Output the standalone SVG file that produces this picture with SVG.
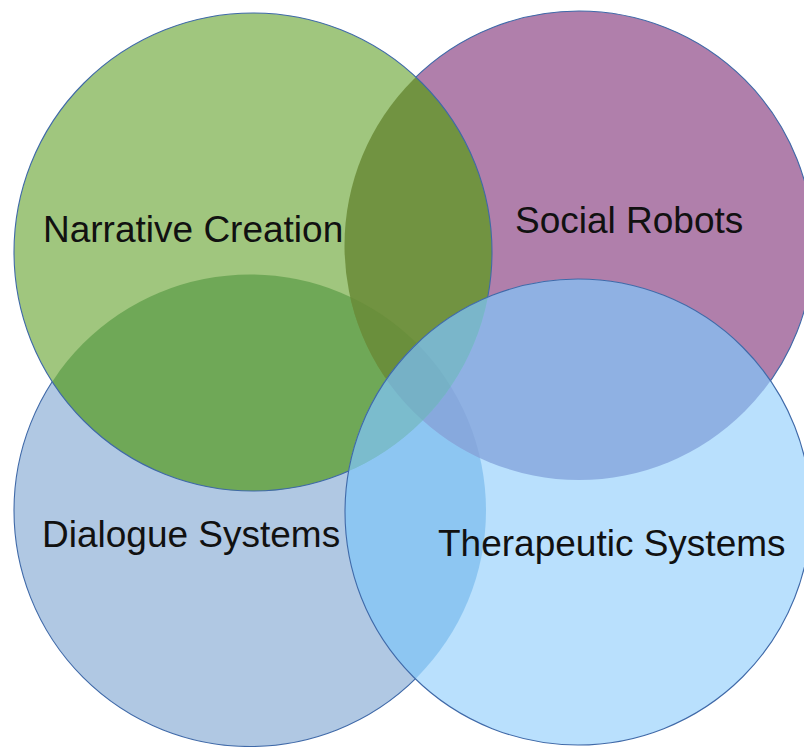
<svg xmlns="http://www.w3.org/2000/svg" width="804" height="747" viewBox="0 0 804 747">
<style>
.lbl{font-family:"Liberation Sans",Arial,sans-serif;font-size:37px;fill:#111111}
.edge{fill:none;stroke:#3f69a8;stroke-width:1.1}
</style>
<defs>
<circle id="cirG" cx="253" cy="252" r="239"/>
<circle id="cirP" cx="579" cy="245.5" r="234.5"/>
<circle id="cirD" cx="250" cy="510.5" r="236"/>
<circle id="cirT" cx="578" cy="512" r="233"/>
<clipPath id="clipG"><use href="#cirG"/></clipPath>
<clipPath id="clipP"><use href="#cirP"/></clipPath>
<clipPath id="clipD"><use href="#cirD"/></clipPath>
<clipPath id="clipT"><use href="#cirT"/></clipPath>
</defs>
<rect width="804" height="747" fill="#ffffff"/>

<g id="node-dialogue">
<use href="#cirD" fill="#b0c8e3"/>
<use href="#cirD" class="edge"/>
<text class="lbl" x="42" y="547">Dialogue Systems</text>
</g>

<g id="node-social">
<use href="#cirP" fill="#b07fab"/>
<use href="#cirP" class="edge"/>
<text class="lbl" x="515" y="233">Social Robots</text>
</g>

<g id="node-narrative">
<use href="#cirG" fill="#a0c67e"/>
<use href="#cirD" fill="#6fa857" clip-path="url(#clipG)"/>
<use href="#cirP" fill="#719341" clip-path="url(#clipG)"/>
<g clip-path="url(#clipG)"><use href="#cirP" fill="#6a8f3c" clip-path="url(#clipD)"/></g>
<use href="#cirG" class="edge"/>
<text class="lbl" x="43" y="242">Narrative Creation</text>
</g>

<g id="node-therapeutic">
<use href="#cirT" fill="#b9e0fd"/>
<use href="#cirD" fill="#8dc6f2" clip-path="url(#clipT)"/>
<use href="#cirP" fill="#8fb1e3" clip-path="url(#clipT)"/>
<g clip-path="url(#clipT)"><use href="#cirP" fill="#87a9dd" clip-path="url(#clipD)"/></g>
<use href="#cirG" fill="#7ebfd0" clip-path="url(#clipT)"/>
<g clip-path="url(#clipT)"><use href="#cirG" fill="#7bbccd" clip-path="url(#clipD)"/></g>
<g clip-path="url(#clipT)"><use href="#cirG" fill="#7ab6ca" clip-path="url(#clipP)"/></g>
<g clip-path="url(#clipT)"><g clip-path="url(#clipD)"><use href="#cirG" fill="#76b1c6" clip-path="url(#clipP)"/></g></g>
<use href="#cirT" class="edge"/>
<text class="lbl" x="438" y="556">Therapeutic Systems</text>
</g>
</svg>
